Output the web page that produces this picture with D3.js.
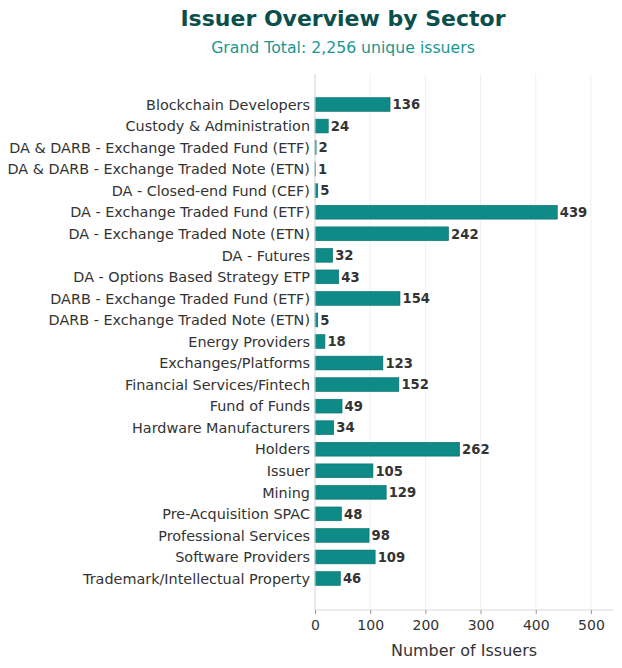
<!DOCTYPE html>
<html><head><meta charset="utf-8">
<script src="https://cdn.jsdelivr.net/npm/d3@7"></script>
<style>body{margin:0;background:#fff;font-family:"DejaVu Sans",sans-serif}</style>
</head><body>
<svg id="c" width="622" height="668"></svg>
<script>
const categories = ["Blockchain Developers","Custody & Administration","DA & DARB - Exchange Traded Fund (ETF)","DA & DARB - Exchange Traded Note (ETN)","DA - Closed-end Fund (CEF)","DA - Exchange Traded Fund (ETF)","DA - Exchange Traded Note (ETN)","DA - Futures","DA - Options Based Strategy ETP","DARB - Exchange Traded Fund (ETF)","DARB - Exchange Traded Note (ETN)","Energy Providers","Exchanges/Platforms","Financial Services/Fintech","Fund of Funds","Hardware Manufacturers","Holders","Issuer","Mining","Pre-Acquisition SPAC","Professional Services","Software Providers","Trademark/Intellectual Property"];
const values = [136,24,2,1,5,439,242,32,43,154,5,18,123,152,49,34,262,105,129,48,98,109,46];
const xTicks = [0,100,200,300,400,500];
const title = "Issuer Overview by Sector";
const subtitle = "Grand Total: 2,256 unique issuers";
const xLabel = "Number of Issuers";

const svg = d3.select("#c");
const L = 315, R = 613, T = 74, B = 610;
const x = d3.scaleLinear().domain([0,540]).range([L,R]);
const step = (578.5-104.5)/22;
const y = d3.scaleBand().domain(categories)
  .range([104.5-step/2, 104.5-step/2 + step*categories.length])
  .paddingInner(0.36).paddingOuter(0.18);
// grid
svg.append("g").selectAll("line").data(xTicks).join("line")
  .attr("x1",d=>x(d)).attr("x2",d=>x(d)).attr("y1",T).attr("y2",B)
  .attr("stroke","#eef0f2").attr("stroke-width",1);
// bars
svg.append("g").selectAll("rect").data(categories).join("rect")
  .attr("x",x(0)).attr("y",d=>y(d)).attr("height",y.bandwidth())
  .attr("width",(d,i)=>x(values[i])-x(0))
  .attr("fill","#0e8a87").attr("stroke","#0b6e6b").attr("stroke-width",0.6);
// value labels
svg.append("g").selectAll("text").data(categories).join("text")
  .attr("x",(d,i)=>x(values[i])+2.5).attr("y",d=>y(d)+y.bandwidth()/2)
  .attr("dy","0.36em").attr("font-size",13.2).attr("font-weight","bold").attr("fill","#333")
  .text((d,i)=>values[i]);
// y labels
svg.append("g").selectAll("text").data(categories).join("text")
  .attr("x",L-5).attr("y",d=>y(d)+y.bandwidth()/2).attr("dy","0.36em")
  .attr("text-anchor","end").attr("font-size",14.4).attr("fill","#333").text(d=>d);
// spines
svg.append("line").attr("x1",L).attr("x2",L).attr("y1",T).attr("y2",B).attr("stroke","#d5d9de");
svg.append("line").attr("x1",L).attr("x2",R).attr("y1",B).attr("y2",B).attr("stroke","#d5d9de");
// x axis
const ax = svg.append("g").attr("transform",`translate(0,${B})`)
  .call(d3.axisBottom(x).tickValues(xTicks).tickSize(4).tickPadding(6));
ax.select(".domain").remove();
ax.selectAll("line").attr("stroke","#999");
ax.selectAll("text").attr("font-size",14).attr("fill","#333").attr("font-family","DejaVu Sans");
svg.append("text").attr("x",(L+R)/2).attr("y",656).attr("text-anchor","middle")
  .attr("font-size",16).attr("fill","#333").text(xLabel);
svg.append("text").attr("x",343).attr("y",26).attr("text-anchor","middle")
  .attr("font-size",22).attr("font-weight","bold").attr("fill","#0b4f4c").text(title);
svg.append("text").attr("x",343).attr("y",53).attr("text-anchor","middle")
  .attr("font-size",15.7).attr("fill","#1a9691").text(subtitle);
</script>
</body></html>
